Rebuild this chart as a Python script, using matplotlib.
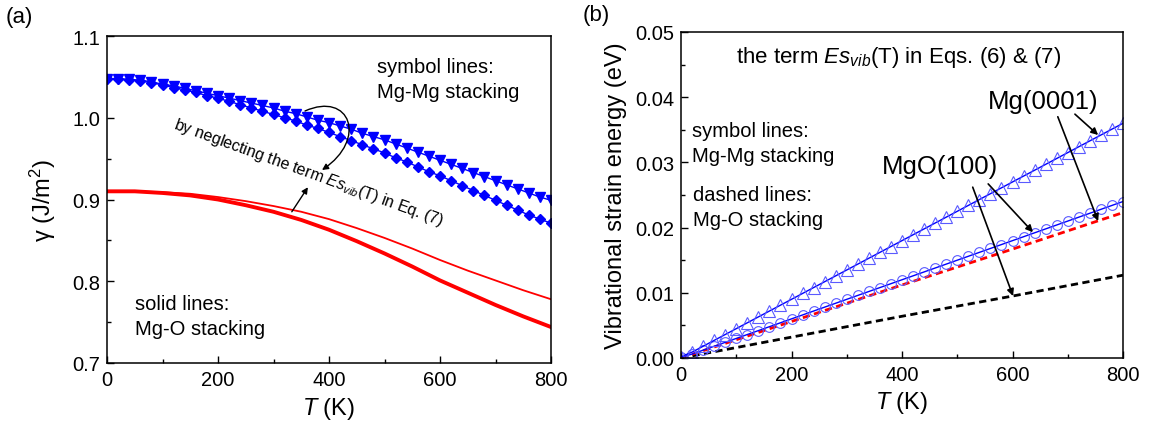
import matplotlib
matplotlib.use('Agg')
import matplotlib.pyplot as plt
from matplotlib.ticker import MultipleLocator, FormatStrFormatter
from matplotlib.patches import FancyArrowPatch
from matplotlib.path import Path

plt.rcParams['font.family'] = ['Liberation Sans', 'DejaVu Sans']
plt.rcParams['mathtext.fontset'] = 'custom'
plt.rcParams['mathtext.rm'] = 'Liberation Sans'
plt.rcParams['mathtext.it'] = 'Liberation Sans:italic'
plt.rcParams['mathtext.sf'] = 'Liberation Sans'

# temperatures of the symbol curves (every 20 K)
T_sym = list(range(0, 801, 20))
# temperatures of the smooth curves (every 50 K)
T_line = list(range(0, 801, 50))

# (a) surface energy gamma, Mg-Mg stacking
gamma_mgmg_tri = [1.048, 1.048, 1.047, 1.046, 1.044, 1.041, 1.039, 1.036, 1.033, 1.030,
                  1.027, 1.024, 1.021, 1.018, 1.015, 1.012, 1.008, 1.005, 1.001, 0.997,
                  0.994, 0.990, 0.986, 0.981, 0.977, 0.973, 0.968, 0.963, 0.958, 0.953,
                  0.948, 0.943, 0.938, 0.933, 0.928, 0.923, 0.918, 0.913, 0.908, 0.903,
                  0.899]
gamma_mgmg_dia = [1.047, 1.047, 1.046, 1.045, 1.043, 1.040, 1.037, 1.034, 1.031, 1.027,
                  1.024, 1.020, 1.016, 1.012, 1.008, 1.004, 1.000, 0.996, 0.991, 0.987,
                  0.982, 0.977, 0.972, 0.967, 0.962, 0.957, 0.951, 0.946, 0.940, 0.934,
                  0.929, 0.923, 0.917, 0.911, 0.905, 0.899, 0.893, 0.887, 0.881, 0.876,
                  0.871]
# (a) Mg-O stacking
gamma_mgo_thin = [0.910, 0.910, 0.909, 0.907, 0.903, 0.898, 0.892, 0.885, 0.876,
                  0.865, 0.853, 0.840, 0.826, 0.813, 0.801, 0.789, 0.778]
gamma_mgo_thick = [0.910, 0.910, 0.908, 0.905, 0.900, 0.893, 0.885, 0.875, 0.863,
                   0.849, 0.834, 0.818, 0.801, 0.786, 0.771, 0.757, 0.744]

# (b) vibrational strain energy
E_mg0001 = [0.0002, 0.0009, 0.0018, 0.0027, 0.0036, 0.0045, 0.0054, 0.0063, 0.0072, 0.0081,
            0.0090, 0.0099, 0.0108, 0.0117, 0.0126, 0.0135, 0.0144, 0.0153, 0.0162, 0.0171,
            0.0180, 0.0189, 0.0198, 0.0207, 0.0216, 0.0225, 0.0234, 0.0243, 0.0252, 0.0261,
            0.0270, 0.0279, 0.0288, 0.0297, 0.0306, 0.0315, 0.0324, 0.0333, 0.0342, 0.0351,
            0.0360]
E_mgo100 = [0.0001, 0.0006, 0.0012, 0.0018, 0.0024, 0.0030, 0.0036, 0.0042, 0.0048, 0.0054,
            0.0060, 0.0066, 0.0072, 0.0078, 0.0084, 0.0090, 0.0096, 0.0102, 0.0108, 0.0114,
            0.0120, 0.0126, 0.0132, 0.0138, 0.0144, 0.0150, 0.0156, 0.0162, 0.0168, 0.0174,
            0.0180, 0.0186, 0.0192, 0.0198, 0.0204, 0.0210, 0.0216, 0.0222, 0.0228, 0.0234,
            0.0240]
T_dash = [0, 200, 400, 600, 800]
E_mgo_dash_red = [0.0, 0.0056, 0.0112, 0.0167, 0.0223]
E_mgo_dash_black = [0.0, 0.0032, 0.0064, 0.0095, 0.0127]

W, H = 1150, 435
fig = plt.figure(figsize=(W / 100, H / 100), dpi=100)
ax1 = fig.add_axes([107 / W, 1 - 364 / H, 444 / W, 327 / H])
ax2 = fig.add_axes([681 / W, 1 - 359 / H, 442 / W, 326 / H])


def px(x, y):
    return x / W, 1 - y / H


def style_axes(ax):
    for s in ax.spines.values():
        s.set_linewidth(1.1)
    ax.tick_params(which='both', direction='in', top=False, right=False,
                   labelsize=14.5, width=1.0, pad=5)
    ax.tick_params(which='major', length=5)
    ax.tick_params(which='minor', length=3)
    ax.set_xlim(0, 800)
    ax.xaxis.set_major_locator(MultipleLocator(200))
    ax.xaxis.set_minor_locator(MultipleLocator(100))
    ax.set_xlabel('$T$ (K)', fontsize=17, labelpad=4)


# ---- panel (a)
ax1.plot(T_line, gamma_mgo_thin, color='red', lw=1.3)
ax1.plot(T_line, gamma_mgo_thick, color='red', lw=2.8)
ax1.plot(T_sym, gamma_mgmg_tri, color='blue', lw=1, marker='v', ms=7.5,
         markerfacecolor='blue', markeredgecolor='blue')
ax1.plot(T_sym, gamma_mgmg_dia, color='blue', lw=1, marker='D', ms=5.5,
         markerfacecolor='blue', markeredgecolor='blue')
style_axes(ax1)
ax1.set_ylim(0.7, 1.1)
ax1.yaxis.set_major_locator(MultipleLocator(0.1))
ax1.yaxis.set_minor_locator(MultipleLocator(0.05))
ax1.yaxis.set_major_formatter(FormatStrFormatter('%.1f'))
ax1.set_ylabel('γ (J/m$^2$)', fontsize=17, labelpad=10)

fig.text(*px(309, 173), 'by neglecting the term $Es_{vib}$(T) in Eq. (7)', fontsize=11.5,
         rotation=-20, rotation_mode='anchor', ha='center', va='center')

# looped arrow from the symbol curves down to the note
loop = Path([px(305, 112), px(350, 92), px(368, 140), px(322, 171)],
            [Path.MOVETO, Path.CURVE4, Path.CURVE4, Path.CURVE4])
fig.patches.append(FancyArrowPatch(path=loop, transform=fig.transFigure,
                                   arrowstyle='-|>', color='black', lw=1.0,
                                   mutation_scale=9))
ax1.annotate('', xy=(362, 0.915), xytext=(333, 0.885),
             arrowprops=dict(arrowstyle='-|>', color='black', lw=1.0, mutation_scale=9,
                             shrinkA=0, shrinkB=0))

fig.text(*px(377, 68), 'symbol lines:', fontsize=14.5, va='center')
fig.text(*px(377, 93), 'Mg-Mg stacking', fontsize=14.5, va='center')
fig.text(*px(135, 305), 'solid lines:', fontsize=14.5, va='center')
fig.text(*px(135, 330), 'Mg-O stacking', fontsize=14.5, va='center')
fig.text(*px(6, 17), '(a)', fontsize=16, va='center')

# ---- panel (b)
ax2.plot(T_dash, E_mgo_dash_black, color='black', lw=2, dashes=(2.6, 1.6))
ax2.plot(T_dash, E_mgo_dash_red, color='red', lw=2, dashes=(2.6, 1.6))
ax2.plot(T_sym, E_mgo100, color='blue', lw=1, marker='o', ms=7,
         markerfacecolor='none', markeredgecolor='#5a5aff', markeredgewidth=0.8)
ax2.plot(T_sym, E_mg0001, color='blue', lw=1, marker='^', ms=8,
         markerfacecolor='none', markeredgecolor='#5a5aff', markeredgewidth=0.8)
style_axes(ax2)
ax2.set_ylim(0, 0.05)
ax2.yaxis.set_major_locator(MultipleLocator(0.01))
ax2.yaxis.set_minor_locator(MultipleLocator(0.005))
ax2.yaxis.set_major_formatter(FormatStrFormatter('%.2f'))
ax2.set_ylabel('Vibrational strain energy (eV)', fontsize=17, labelpad=6)

arrow_kw = dict(arrowstyle='-|>', color='black', lw=1.2, mutation_scale=10,
                shrinkA=0, shrinkB=0)
ax2.annotate('', xy=(755, 0.0342), xytext=(713, 0.0374), arrowprops=arrow_kw)
ax2.annotate('', xy=(755, 0.0210), xytext=(682, 0.0370), arrowprops=arrow_kw)
ax2.annotate('', xy=(637, 0.0193), xytext=(556, 0.0267), arrowprops=arrow_kw)
ax2.annotate('', xy=(601, 0.0095), xytext=(528, 0.0262), arrowprops=arrow_kw)

fig.text(*px(899, 57), 'the term $Es_{vib}$(T) in Eqs. (6) & (7)', fontsize=16,
         ha='center', va='center')
fig.text(*px(988, 102), 'Mg(0001)', fontsize=18.5, va='center')
fig.text(*px(882, 167), 'MgO(100)', fontsize=18.5, va='center')
fig.text(*px(692, 132), 'symbol lines:', fontsize=14.5, va='center')
fig.text(*px(692, 157), 'Mg-Mg stacking', fontsize=14.5, va='center')
fig.text(*px(693, 196), 'dashed lines:', fontsize=14.5, va='center')
fig.text(*px(693, 220), 'Mg-O stacking', fontsize=14.5, va='center')
fig.text(*px(583, 15), '(b)', fontsize=16, va='center')

fig.savefig('out.png', dpi=100)
